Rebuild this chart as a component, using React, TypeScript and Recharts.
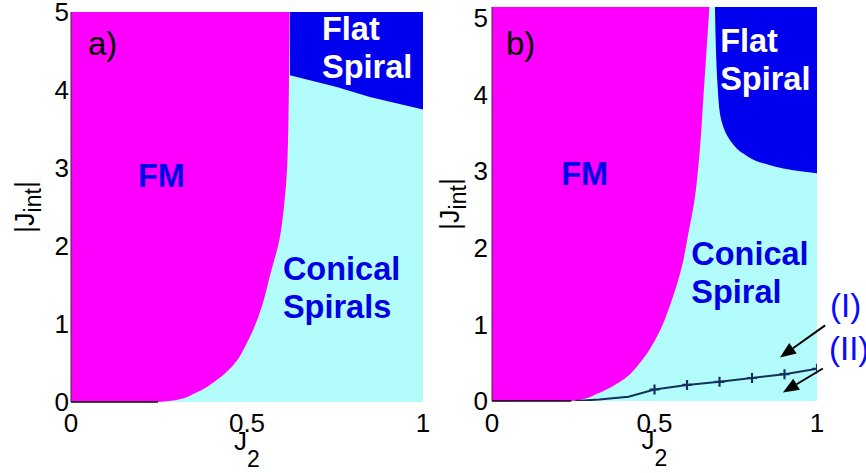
import {
  Area,
  CartesianGrid,
  ComposedChart,
  Line,
  ReferenceDot,
  ReferenceLine,
  XAxis,
  YAxis,
} from 'recharts';

const FONT = '"Liberation Sans", Arial, Helvetica, sans-serif';
const MAGENTA = '#ff00ff';
const CYAN = '#b3fcfc';
const DEEP_BLUE = '#0000ee';
const TEXT_BLUE = '#0000e6';
const MARK_BLUE = '#0a0aff';
const NAVY = '#14305e';

const J2_MAX = 1;
const J2_TICKS = [0, 0.5, 1];
const JINT_TICKS = [0, 1, 2, 3, 4, 5];

// a) FM / conical boundary: J2 read off at each |Jint|
const fmJintA = [0, 0.026, 0.112, 0.282, 0.453, 0.795, 1.222, 1.65, 2.077, 2.5, 3, 4, 5];
const fmJ2A = [0.247, 0.3, 0.352, 0.414, 0.457, 0.504, 0.542, 0.567, 0.592, 0.605, 0.614, 0.619, 0.621];
// a) flat spiral lower-left edge
const flatJintA = [3.75, 3.91, 4.04, 4.19, 5];
const flatJ2A = [1.0, 0.849, 0.755, 0.622, 0.622];

// b) FM / conical boundary
const fmJintB = [0, 0.02, 0.094, 0.268, 0.529, 0.877, 1.312, 1.747, 2.183, 2.617, 3.2, 4.0, 5.14];
const fmJ2B = [0.244, 0.275, 0.323, 0.4, 0.461, 0.512, 0.553, 0.584, 0.604, 0.623, 0.638, 0.651, 0.669];
// b) flat spiral edge
const flatJintB = [2.97, 3.01, 3.1, 3.23, 3.4, 3.57, 3.92, 5.14];
const flatJ2B = [1.0, 0.927, 0.835, 0.773, 0.733, 0.712, 0.697, 0.686];

// b) (I)/(II) separating line, lead-in part then the "+" marked points
const leadJ2B = [0.256, 0.33, 0.42];
const leadJintB = [0, 0.02, 0.055];
const markJ2B = [0.5, 0.6, 0.7, 0.8, 0.9, 1.0];
const markJintB = [0.15, 0.21, 0.25, 0.3, 0.35, 0.42];

// annotation anchors (data coords)
const textA = [
  { x: 0.19, j: 2.756, lines: ['FM'], fill: TEXT_BLUE },
  { x: 0.713, j: 4.641, lines: ['Flat', 'Spiral'], fill: '#ffffff' },
  { x: 0.602, j: 1.564, lines: ['Conical', 'Spirals'], fill: TEXT_BLUE },
];
const textB = [
  { x: 0.213, j: 2.813, lines: ['FM'], fill: TEXT_BLUE },
  { x: 0.702, j: 4.55, lines: ['Flat', 'Spiral'], fill: '#ffffff' },
  { x: 0.613, j: 1.769, lines: ['Conical', 'Spiral'], fill: TEXT_BLUE },
];
const phaseTags = [
  { x: 1.04, j: 1.09, text: '(I)' },
  { x: 1.037, j: 0.529, text: '(II)' },
];
const arrowsB = [
  { from: [1.025, 0.986], to: [0.886, 0.568] },
  { from: [1.018, 0.424], to: [0.895, 0.111] },
];

const rows = (js: number[], xs: number[]) => js.map((j, i) => ({ j, x: xs[i] }));
const rangeRows = (js: number[], xs: number[]) => js.map((j, i) => ({ j, x: [xs[i], J2_MAX] }));

const fmA = rows(fmJintA, fmJ2A);
const flatA = rangeRows(flatJintA, flatJ2A);
const fmB = rows(fmJintB, fmJ2B);
const flatB = rangeRows(flatJintB, flatJ2B);
const lineB = rows([...leadJintB, ...markJintB], [...leadJ2B, ...markJ2B]);

function MultiText({ cx, cy, lines, fill, size, weight }: any) {
  return (
    <text x={cx} y={cy} fill={fill} fontSize={size} fontWeight={weight} fontFamily={FONT}>
      {lines.map((s: string, i: number) => (
        <tspan key={s} x={cx} dy={i === 0 ? 0 : 37.5}>
          {s}
        </tspan>
      ))}
    </text>
  );
}

function Arrow({ x1, y1, x2, y2 }: any) {
  const ang = Math.atan2(y2 - y1, x2 - x1);
  const len = 16;
  const half = 6.5;
  const bx = x2 - len * Math.cos(ang);
  const by = y2 - len * Math.sin(ang);
  const px = -Math.sin(ang) * half;
  const py = Math.cos(ang) * half;
  return (
    <g>
      <line x1={x1} y1={y1} x2={bx} y2={by} stroke="#000" strokeWidth={2} />
      <polygon points={`${x2},${y2} ${bx + px},${by + py} ${bx - px},${by - py}`} fill="#000" />
    </g>
  );
}

function PlusDot(props: any) {
  const { cx, cy, index } = props;
  if (index < leadJ2B.length) return <g key={`d${index}`} />;
  return (
    <path
      key={`d${index}`}
      d={`M${cx - 5},${cy}h10M${cx},${cy - 5}v10`}
      stroke={NAVY}
      strokeWidth={2.2}
    />
  );
}

const xTitle = (props: any) => {
  const vb = props.viewBox || {};
  return (
    <text x={vb.x + vb.width / 2} y={vb.y + 48} textAnchor="middle" fontFamily={FONT} fontSize={26} fill="#000">
      J<tspan dy={17} fontSize={23}>2</tspan>
    </text>
  );
};

const yTitle = (dx: number) => (props: any) => {
  const vb = props.viewBox || {};
  const cx = vb.x + dx;
  const cy = vb.y + vb.height / 2;
  return (
    <text transform={`translate(${cx},${cy}) rotate(-90)`} textAnchor="middle" fontFamily={FONT} fontSize={27} fill="#000">
      |J<tspan dy={7} fontSize={23}>int</tspan>
      <tspan dy={-7}>|</tspan>
    </text>
  );
};

const tick = { fontSize: 26, fill: '#000', fontFamily: FONT };

function regionLabels(items: typeof textA, tag: { x: number; j: number; text: string }) {
  const out = items.map((t) => (
    <ReferenceDot
      key={t.lines.join('-')}
      x={t.x}
      y={t.j}
      r={0}
      ifOverflow="visible"
      shape={(p: any) => <MultiText cx={p.cx} cy={p.cy} lines={t.lines} fill={t.fill} size={32.5} weight="bold" />}
    />
  ));
  out.push(
    <ReferenceDot
      key={tag.text}
      x={tag.x}
      y={tag.j}
      r={0}
      ifOverflow="visible"
      shape={(p: any) => <MultiText cx={p.cx} cy={p.cy} lines={[tag.text]} fill="#000" size={33} weight="normal" />}
    />,
  );
  return out;
}

export default function App() {
  return (
    <div style={{ position: 'absolute', left: 0, top: 0, width: 866, height: 473, background: '#fff' }}>
      <div style={{ position: 'absolute', left: 0, top: 0 }}>
        <ComposedChart layout="vertical" width={433} height={473} margin={{ top: 12, right: 10, bottom: 0, left: 0 }}>
          <CartesianGrid fill={CYAN} stroke="none" horizontal={false} vertical={false} />
          <XAxis
            type="number"
            domain={[0, J2_MAX]}
            ticks={J2_TICKS}
            interval={0}
            allowDataOverflow
            height={71}
            axisLine={false}
            tickLine={false}
            tickSize={0}
            tickMargin={12}
            tick={tick}
            label={xTitle}
          />
          <YAxis
            type="number"
            dataKey="j"
            domain={[0, 5]}
            ticks={JINT_TICKS}
            interval={0}
            allowDataOverflow
            reversed
            width={71}
            axisLine={{ stroke: '#333', strokeWidth: 1 }}
            tickLine={false}
            tickSize={0}
            tickMargin={2}
            tick={tick}
            label={yTitle(34)}
          />
          <Area data={fmA} dataKey="x" type="monotone" stroke="none" fill={MAGENTA} fillOpacity={1} isAnimationActive={false} />
          <Area data={flatA} dataKey="x" type="linear" stroke="none" fill={DEEP_BLUE} fillOpacity={1} isAnimationActive={false} />
          <ReferenceLine segment={[{ x: 0, y: 0 }, { x: fmJ2A[0], y: 0 }]} stroke="#000" strokeWidth={1.5} />
          {regionLabels(textA, { x: 0.048, j: 4.449, text: 'a)' })}
        </ComposedChart>
      </div>
      <div style={{ position: 'absolute', left: 433, top: 0 }}>
        <ComposedChart layout="vertical" width={433} height={473} margin={{ top: 7, right: 49, bottom: 0, left: 0 }}>
          <CartesianGrid fill={CYAN} stroke="none" horizontal={false} vertical={false} />
          <XAxis
            type="number"
            domain={[0, J2_MAX]}
            ticks={J2_TICKS}
            interval={0}
            allowDataOverflow
            height={72}
            axisLine={false}
            tickLine={false}
            tickSize={0}
            tickMargin={13}
            tick={tick}
            label={xTitle}
          />
          <YAxis
            type="number"
            dataKey="j"
            domain={[0, 5.14]}
            ticks={JINT_TICKS}
            interval={0}
            allowDataOverflow
            reversed
            width={59}
            axisLine={{ stroke: '#333', strokeWidth: 1 }}
            tickLine={false}
            tickSize={0}
            tickMargin={4}
            tick={tick}
            label={yTitle(26)}
          />
          <Area data={fmB} dataKey="x" type="monotone" stroke="none" fill={MAGENTA} fillOpacity={1} isAnimationActive={false} />
          <Area data={flatB} dataKey="x" type="monotone" stroke="none" fill={DEEP_BLUE} fillOpacity={1} isAnimationActive={false} />
          <ReferenceLine segment={[{ x: 0, y: 0 }, { x: fmJ2B[0], y: 0 }]} stroke="#000" strokeWidth={1.5} />
          <Line data={lineB} dataKey="x" type="linear" stroke={NAVY} strokeWidth={2} dot={PlusDot} isAnimationActive={false} />
          {arrowsB.map((a) => (
            <ReferenceLine
              key={a.from.join(',')}
              segment={[{ x: a.from[0], y: a.from[1] }, { x: a.to[0], y: a.to[1] }]}
              ifOverflow="visible"
              shape={(p: any) => <Arrow {...p} />}
            />
          ))}
          {phaseTags.map((t) => (
            <ReferenceDot
              key={t.text}
              x={t.x}
              y={t.j}
              r={0}
              ifOverflow="visible"
              shape={(p: any) => <MultiText cx={p.cx} cy={p.cy} lines={[t.text]} fill={MARK_BLUE} size={33} weight="normal" />}
            />
          ))}
          {regionLabels(textB, { x: 0.043, j: 4.51, text: 'b)' })}
        </ComposedChart>
      </div>
    </div>
  );
}
